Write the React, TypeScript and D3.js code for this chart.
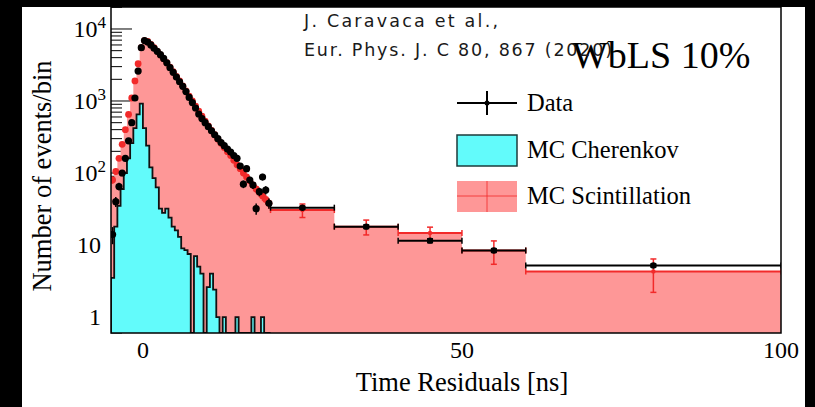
import React from "react";
import * as d3 from "d3";

const W = 815;
const H = 407;

// ---- fine binning: -5 .. 20 ns, 0.5 ns bins ----
const fineStart = -5;
const fineWidth = 0.5;

const dataFine = [
  14, 40, 65, 100, 160, 280, 500, 1100, 2600, 5500,
  6900, 6600, 6000, 5400, 4900, 4400, 3900, 3400, 2900, 2500,
  2150, 1850, 1600, 1350, 1120, 950, 800, 660, 570, 500,
  440, 385, 340, 300, 265, 240, 215, 195, 175, 160,
  125, 70, 115, 80, 68, 32, 55, 88, 58, 38,
];

const scintFine = [
  80, 105, 160, 250, 400, 650, 1100, 1900, 3300, 5500,
  6900, 6700, 6100, 5500, 4900, 4350, 3850, 3400, 2950, 2550,
  2200, 1900, 1620, 1380, 1170, 1000, 850, 720, 615, 525,
  450, 390, 340, 295, 258, 226, 198, 175, 150, 130,
  115, 100, 88, 78, 68, 60, 54, 48, 43, 38,
];

const cherFine = [
  3.5, 18, 35, 60, 100, 160, 260, 420, 650, 920,
  420, 240, 120, 85, 63, 32, 28, 32, 24, 18,
  16, 13, 9, 8.5, 7.5, 0, 7, 5, 4, 0,
  2.6, 4, 2.4, 1, 0, 1, 0, 0, 0, 1,
  0, 0, 0, 0, 1, 0, 0, 1, 0, 0,
];

// ---- coarse binning ----
const coarseEdges = [20, 30, 40, 50, 60, 100];
const dataCoarse = [33, 18, 11.5, 8.4, 5.2];
const dataCoarseErr = [1.5, 1.0, 0.7, 0.5, 0.25];
const scintCoarse = [30.6, 18, 14.7, 8.4, 4.3];
const scintCoarseErr = [6.5, 4.2, 3.0, 3.0, 2.1];

const xTickValues = [0, 50, 100];
const yMajorValues = [1, 10, 100, 1000, 10000];
const yMajorLabels: [string, string][] = [
  ["1", ""],
  ["10", ""],
  ["10", "2"],
  ["10", "3"],
  ["10", "4"],
];

const legendLabels = ["Data", "MC Cherenkov", "MC Scintillation"];
const titleText = "WbLS 10%";
const citation = ["J. Caravaca et al.,", "Eur. Phys. J. C 80, 867 (2020)"];
const xTitle = "Time Residuals [ns]";
const yTitle = "Number of events/bin";

// ---- layout ----
const plotL = 111;
const plotR = 781;
const plotT = 7;
const plotB = 333;

const PINK = "#fe9797";
const RED = "#f22a2a";
const CYAN = "#62fbfb";

type Bin = { x0: number; x1: number; v: number; e: number };

function makeFine(vals: number[]): Bin[] {
  return vals.map((v, i) => ({
    x0: fineStart + i * fineWidth,
    x1: fineStart + (i + 1) * fineWidth,
    v,
    e: Math.sqrt(v),
  }));
}
function makeCoarse(vals: number[], errs: number[]): Bin[] {
  return vals.map((v, i) => ({
    x0: coarseEdges[i],
    x1: coarseEdges[i + 1],
    v,
    e: errs[i],
  }));
}

export default function App() {
  const x = d3.scaleLinear().domain([-5, 100]).range([plotL, plotR]);
  const y = d3.scaleLog().domain([0.6, 20200]).range([plotB, plotT]).clamp(true);
  const yv = (v: number) => (v > 0 ? y(v) : plotB);

  const dataBins = [...makeFine(dataFine), ...makeCoarse(dataCoarse, dataCoarseErr)];
  const scintBins = [...makeFine(scintFine), ...makeCoarse(scintCoarse, scintCoarseErr)];
  const cherBins = makeFine(cherFine);

  const stepPts = (bins: Bin[]) => {
    const pts: [number, number][] = [];
    bins.forEach((b) => {
      pts.push([x(b.x0), yv(b.v)]);
      pts.push([x(b.x1), yv(b.v)]);
    });
    return pts;
  };

  const area = d3
    .area<[number, number]>()
    .x((d) => d[0])
    .y0(plotB)
    .y1((d) => d[1]);
  const line = d3.line<[number, number]>();

  const scintPts = stepPts(scintBins);
  const cherPts = stepPts(cherBins);
  const cherOutline: [number, number][] = [
    [x(cherBins[0].x0), plotB],
    ...cherPts,
    [x(cherBins[cherBins.length - 1].x1), plotB],
  ];

  // y minor ticks
  const minor: number[] = [];
  for (let d = -1; d <= 4; d++) {
    for (let k = 2; k <= 9; k++) {
      const v = k * Math.pow(10, d);
      if (v > 0.6 && v < 20200) minor.push(v);
    }
  }

  const serif = "'Liberation Serif', 'Times New Roman', serif";

  const errBar = (b: Bin, color: string, r: number, key: string, coarse: boolean) => {
    const cx = x((b.x0 + b.x1) / 2);
    const cy = yv(b.v);
    const yt = yv(b.v + b.e);
    const yb = yv(Math.max(b.v - b.e, 0.0001));
    return (
      <g key={key}>
        {coarse && (
          <>
            <line x1={x(b.x0)} x2={x(b.x1)} y1={cy} y2={cy} stroke={color} strokeWidth={2} />
            <line x1={x(b.x0)} x2={x(b.x0)} y1={cy - 3} y2={cy + 3} stroke={color} strokeWidth={1.5} />
            <line x1={x(b.x1)} x2={x(b.x1)} y1={cy - 3} y2={cy + 3} stroke={color} strokeWidth={1.5} />
          </>
        )}
        <line x1={cx} x2={cx} y1={yt} y2={yb} stroke={color} strokeWidth={1.5} />
        {coarse && (
          <>
            <line x1={cx - 3} x2={cx + 3} y1={yt} y2={yt} stroke={color} strokeWidth={1.5} />
            <line x1={cx - 3} x2={cx + 3} y1={yb} y2={yb} stroke={color} strokeWidth={1.5} />
          </>
        )}
        <circle cx={cx} cy={cy} r={r} fill={color} />
      </g>
    );
  };

  const legX0 = 457;
  const legX1 = 517;
  const legTextX = 527;
  const legY = [103, 150, 196];

  return (
    <svg
      width={W}
      height={H}
      style={{ position: "absolute", left: 0, top: 0, display: "block" }}
      xmlns="http://www.w3.org/2000/svg"
    >
      <defs>
        <clipPath id="plotClip">
          <rect x={plotL} y={plotT} width={plotR - plotL} height={plotB - plotT} />
        </clipPath>
      </defs>
      <rect x={0} y={0} width={W} height={H} fill="#000" />
      <rect x={22} y={7} width={783} height={H - 7} fill="#fff" />

      {/* y ticks (drawn under histograms) */}
      <g stroke="#000" strokeWidth={1}>
        {yMajorValues.map((v) => (
          <line key={"M" + v} x1={plotL} x2={plotL + 21} y1={y(v)} y2={y(v)} />
        ))}
        {minor.map((v) => (
          <line key={"m" + v} x1={plotL} x2={plotL + 11} y1={y(v)} y2={y(v)} />
        ))}
      </g>

      <g clipPath="url(#plotClip)">
        <path d={area(scintPts) || ""} fill={PINK} />
        <path d={area(cherPts) || ""} fill={CYAN} />
        <path d={line(cherOutline) || ""} fill="none" stroke="#111" strokeWidth={1.8} />
        {scintBins.map((b, i) => errBar(b, RED, i < scintFine.length ? 3.4 : 2.2, "s" + i, i >= scintFine.length))}
        {dataBins.map((b, i) => errBar(b, "#000", i < dataFine.length ? 3.6 : 3.2, "d" + i, i >= dataFine.length))}
      </g>

      {/* frame */}
      <rect
        x={plotL}
        y={plotT}
        width={plotR - plotL}
        height={plotB - plotT}
        fill="none"
        stroke="#000"
        strokeWidth={1.5}
      />

      {/* y labels */}
      <g fontFamily={serif} fill="#000">
        {yMajorValues.map((v, i) => {
          const [base, sup] = yMajorLabels[i];
          return (
            <text key={"yl" + v} x={sup ? 106 : 101} y={y(v) + 8} fontSize={24} textAnchor="end">
              {base}
              {sup && (
                <tspan fontSize={17} dy={-9}>
                  {sup}
                </tspan>
              )}
            </text>
          );
        })}
      </g>

      {/* x labels */}
      <g fontFamily={serif} fill="#000" fontSize={24} textAnchor="middle">
        {xTickValues.map((v) => (
          <text key={"xl" + v} x={x(v)} y={358}>
            {v}
          </text>
        ))}
      </g>

      <text x={462} y={391} fontFamily={serif} fontSize={26.5} textAnchor="middle" fill="#000">
        {xTitle}
      </text>
      <text
        transform={`translate(51, 176) rotate(-90)`}
        fontFamily={serif}
        fontSize={26.5}
        textAnchor="middle"
        fill="#000"
      >
        {yTitle}
      </text>

      {/* title */}
      <text x={572} y={68} fontFamily={serif} fontSize={38} fill="#000">
        {titleText}
      </text>

      {/* legend */}
      <g>
        <line x1={legX0} x2={legX1} y1={legY[0]} y2={legY[0]} stroke="#000" strokeWidth={2} />
        <line x1={(legX0 + legX1) / 2} x2={(legX0 + legX1) / 2} y1={legY[0] - 12} y2={legY[0] + 12} stroke="#000" strokeWidth={2} />
        <circle cx={(legX0 + legX1) / 2} cy={legY[0]} r={2.5} fill="#000" />

        <rect x={legX0} y={legY[1] - 15} width={legX1 - legX0} height={31} fill={CYAN} stroke="#1d3b3b" strokeWidth={1.5} />

        <rect x={legX0} y={legY[2] - 15} width={legX1 - legX0} height={31} fill={PINK} />
        <line x1={legX0} x2={legX1} y1={legY[2]} y2={legY[2]} stroke={RED} strokeWidth={1} opacity={0.8} />
        <line x1={(legX0 + legX1) / 2} x2={(legX0 + legX1) / 2} y1={legY[2] - 15} y2={legY[2] + 16} stroke={RED} strokeWidth={1} opacity={0.8} />

        {legendLabels.map((t, i) => (
          <text key={t} x={legTextX} y={legY[i] + 8} fontFamily={serif} fontSize={24.5} fill="#000">
            {t}
          </text>
        ))}
      </g>

      {/* citation */}
      <g fontFamily="'DejaVu Sans', sans-serif" fontSize={17.5} fill="#1a1a1a">
        <text x={304} y={27} textLength={194} lengthAdjust="spacing">{citation[0]}</text>
        <text x={304} y={56} textLength={308} lengthAdjust="spacing">{citation[1]}</text>
      </g>
    </svg>
  );
}
